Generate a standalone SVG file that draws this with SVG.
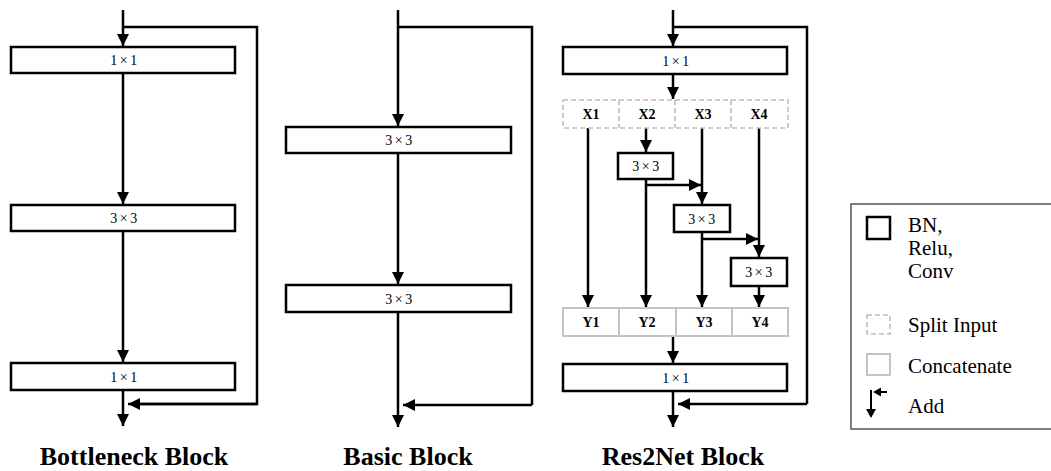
<svg xmlns="http://www.w3.org/2000/svg" width="1051" height="471" viewBox="0 0 1051 471">
<defs>
<marker id="ah" markerUnits="userSpaceOnUse" markerWidth="13" markerHeight="13" refX="12" refY="6" orient="auto">
<path d="M0,0 L12,6 L0,12 z" fill="#000"/>
</marker>
<style>
.box{fill:#fff;stroke:#000;stroke-width:2.5}
.split{fill:#fff;stroke:#bdbdbd;stroke-width:1.6;stroke-dasharray:5 3}
.cat{fill:#fff;stroke:#c4c4c4;stroke-width:2}
.ln{fill:none;stroke:#000;stroke-width:2.5}
.arr{fill:none;stroke:#000;stroke-width:2.5;marker-end:url(#ah)}
.lbl{font-family:"Liberation Serif","DejaVu Serif",serif;font-size:14px;text-anchor:middle;letter-spacing:2.5px}
.xl{font-family:"Liberation Serif","DejaVu Serif",serif;font-size:14px;font-weight:bold;text-anchor:middle}
.title{font-family:"Liberation Serif","DejaVu Serif",serif;font-size:26px;font-weight:bold;text-anchor:middle}
.leg{font-family:"Liberation Serif","DejaVu Serif",serif;font-size:21px}
</style>
</defs>
<rect width="1051" height="471" fill="#fff"/>

<g id="connectors">
<!-- Bottleneck -->
<path class="arr" d="M123,10 V46"/>
<path class="ln" d="M123,27 H257 V404 H138"/>
<path class="arr" d="M257,404 H128"/>
<path class="arr" d="M123,73 V204"/>
<path class="arr" d="M123,231 V362"/>
<path class="arr" d="M123,390 V426"/>
<!-- Basic -->
<path class="arr" d="M398,10 V126"/>
<path class="ln" d="M398,27 H532 V405"/>
<path class="arr" d="M532,405 H403"/>
<path class="arr" d="M398,153 V284"/>
<path class="arr" d="M398,312 V427"/>
<!-- Res2Net -->
<path class="arr" d="M673,10 V46"/>
<path class="ln" d="M673,27 H807 V404"/>
<path class="arr" d="M807,404 H678"/>
<path class="arr" d="M673,74 V99"/>
<path class="arr" d="M588,128 V307"/>
<path class="arr" d="M646,128 V152"/>
<path class="arr" d="M646,179 V307"/>
<path class="arr" d="M646,185 H701"/>
<path class="arr" d="M702,128 V204"/>
<path class="arr" d="M702,232 V307"/>
<path class="arr" d="M702,239 H758"/>
<path class="arr" d="M759,128 V257"/>
<path class="arr" d="M759,286 V307"/>
<path class="arr" d="M673,336 V363"/>
<path class="arr" d="M673,391 V427"/>
</g>

<g id="bottleneck-1x1a"><rect class="box" x="11" y="47" width="224" height="26"/><text class="lbl" x="125" y="65">1×1</text></g>
<g id="bottleneck-3x3"><rect class="box" x="11" y="205" width="224" height="26"/><text class="lbl" x="125" y="223">3×3</text></g>
<g id="bottleneck-1x1b"><rect class="box" x="11" y="363" width="224" height="27"/><text class="lbl" x="125" y="381.5">1×1</text></g>

<g id="basic-3x3a"><rect class="box" x="286" y="127" width="225" height="26"/><text class="lbl" x="400" y="145">3×3</text></g>
<g id="basic-3x3b"><rect class="box" x="286" y="285" width="225" height="27"/><text class="lbl" x="400" y="303.5">3×3</text></g>

<g id="res2net-1x1a"><rect class="box" x="563" y="47" width="224" height="27"/><text class="lbl" x="677" y="65.5">1×1</text></g>
<g id="res2net-split">
<rect class="split" x="563" y="100" width="225" height="28"/>
<path class="split" d="M619,100 V128 M675,100 V128 M731,100 V128"/>
<text class="xl" x="591" y="119">X1</text>
<text class="xl" x="647" y="119">X2</text>
<text class="xl" x="703" y="119">X3</text>
<text class="xl" x="759" y="119">X4</text>
</g>
<g id="res2net-3x3a"><rect class="box" x="618" y="153" width="55" height="26"/><text class="lbl" x="647" y="171">3×3</text></g>
<g id="res2net-3x3b"><rect class="box" x="674" y="205" width="56" height="27"/><text class="lbl" x="703" y="223.5">3×3</text></g>
<g id="res2net-3x3c"><rect class="box" x="731" y="258" width="56" height="28"/><text class="lbl" x="760" y="277">3×3</text></g>
<g id="res2net-concat">
<rect class="cat" x="563" y="308" width="225" height="28"/>
<path class="cat" d="M619,308 V336 M676,308 V336 M732,308 V336"/>
<text class="xl" x="591" y="327">Y1</text>
<text class="xl" x="647" y="327">Y2</text>
<text class="xl" x="704" y="327">Y3</text>
<text class="xl" x="760" y="327">Y4</text>
</g>
<g id="res2net-1x1b"><rect class="box" x="563" y="364" width="224" height="27"/><text class="lbl" x="677" y="382.5">1×1</text></g>

<g id="titles">
<text class="title" x="134" y="465">Bottleneck Block</text>
<text class="title" x="408" y="465">Basic Block</text>
<text class="title" x="683" y="465">Res2Net Block</text>
</g>

<g id="legend">
<rect x="851" y="204" width="220" height="225" fill="#fff" stroke="#555" stroke-width="1.5"/>
<rect class="box" x="867" y="217" width="23" height="22"/>
<text class="leg" x="908" y="232">BN,</text>
<text class="leg" x="908" y="255">Relu,</text>
<text class="leg" x="908" y="278">Conv</text>
<rect class="split" x="867" y="315" width="23" height="19"/>
<text class="leg" x="908" y="332">Split Input</text>
<rect class="cat" x="867" y="354" width="23" height="21"/>
<text class="leg" x="908" y="373">Concatenate</text>
<path d="M871,390 V410" fill="none" stroke="#000" stroke-width="2"/>
<path d="M866,409 L876,409 L871,418 z" fill="#000"/>
<path d="M887,392 H880" fill="none" stroke="#000" stroke-width="2"/>
<path d="M881,387.5 L881,396.5 L873,392 z" fill="#000"/>
<text class="leg" x="908" y="413">Add</text>
</g>
</svg>
